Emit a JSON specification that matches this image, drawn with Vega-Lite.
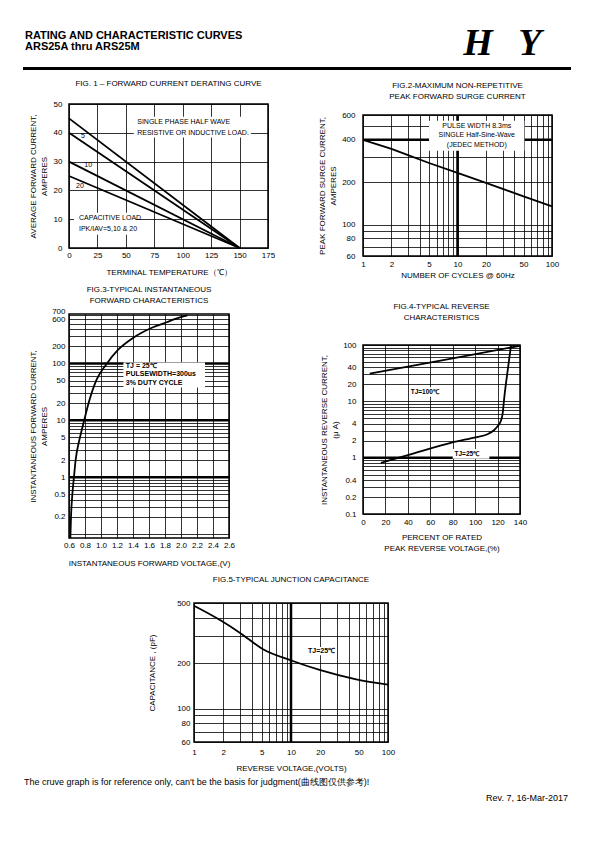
{
  "$schema": "https://vega.github.io/schema/vega-lite/v6.json",
  "background": "white",
  "padding": {"left": 23, "top": 22, "right": 5, "bottom": 5},
  "columns": 1,
  "align": "none",
  "spacing": -12,
  "config": {
    "font": "Liberation Sans",
    "view": {"stroke": "black", "strokeWidth": 1.5, "fill": "white"},
    "axis": {
      "grid": true, "gridColor": "black", "gridOpacity": 1, "gridWidth": 0.8,
      "domain": false, "ticks": false, "tickCount": 100,
      "labelFont": "Liberation Sans", "labelFontSize": 8, "labelColor": "black",
      "titleFont": "Liberation Sans", "titleFontSize": 8, "titleFontWeight": "normal", "titleColor": "black",
      "titleLineHeight": 11,
      "labelFlush": false, "labelOverlap": false
    },
    "title": {"font": "Liberation Sans", "fontSize": 8, "fontWeight": "normal", "color": "black", "anchor": "middle", "lineHeight": 11},
    "text": {"color": "black", "font": "Liberation Sans"}
  },
  "datasets": {
    "header": [
      {"x": -8.76, "y": 34.4, "label": "RATING AND CHARACTERISTIC CURVES", "k": "t"},
      {"x": -8.76, "y": 58.3, "label": "ARS25A thru ARS25M", "k": "t"},
      {"x": 81.5, "y": 68.75, "label": "H", "k": "l"},
      {"x": 91.8, "y": 68.75, "label": "Y", "k": "l"}
    ],
    "headerRule": [{"x": -9.16, "x2": 100, "y": 93.75, "y2": 100}],
    "footer": [
      {"x": -8.96, "y": 54.6, "label": "The cruve graph is for reference only, can't be the basis for judgment(曲线图仅供参考)!", "k": "l"},
      {"x": 99.4, "y": 90.9, "label": "Rev. 7, 16-Mar-2017", "k": "r"}
    ],
    "f1lines": [
      {"s": "R", "x": 0, "y": 45}, {"s": "R", "x": 150, "y": 0},
      {"s": "5", "x": 0, "y": 40}, {"s": "5", "x": 150, "y": 0},
      {"s": "10", "x": 0, "y": 30}, {"s": "10", "x": 150, "y": 0},
      {"s": "20", "x": 0, "y": 25}, {"s": "20", "x": 150, "y": 0}
    ],
    "f1box": [
      {"x": 57, "x2": 160, "y": 38.4, "y2": 45.6},
      {"x": 4.4, "x2": 58.8, "y": 4.6, "y2": 12.2}
    ],
    "f1text": [
      {"x": 60, "y": 43.6, "label": "SINGLE PHASE HALF WAVE"},
      {"x": 60, "y": 39.9, "label": "RESISTIVE OR INDUCTIVE LOAD."},
      {"x": 8.8, "y": 10.5, "label": "CAPACITIVE LOAD"},
      {"x": 8.8, "y": 6.7, "label": "IPK/IAV=5,10 & 20"},
      {"x": 10.5, "y": 39, "label": "5"},
      {"x": 13.5, "y": 28.8, "label": "10"},
      {"x": 6.2, "y": 21.5, "label": "20"}
    ],
    "f2curve": [
      {"x": 1, "y": 400}, {"x": 2, "y": 345}, {"x": 3, "y": 312}, {"x": 5, "y": 274},
      {"x": 10, "y": 233}, {"x": 20, "y": 198}, {"x": 50, "y": 159}, {"x": 100, "y": 135}
    ],
    "f2rh": [{"y": 400}],
    "f2rv": [{"x": 10}],
    "f2box": [{"x": 5.0, "x2": 51, "y": 334, "y2": 547}],
    "f2text": [
      {"x": 16, "y": 500, "label": "PULSE WIDTH 8.3ms"},
      {"x": 16, "y": 435, "label": "SINGLE Half-Sine-Wave"},
      {"x": 16, "y": 370, "label": "(JEDEC METHOD)"}
    ],
    "f3curve": [
      {"x": 0.617, "y": 0.085}, {"x": 0.625, "y": 0.2}, {"x": 0.642, "y": 0.5}, {"x": 0.662, "y": 1},
      {"x": 0.683, "y": 2}, {"x": 0.737, "y": 5}, {"x": 0.79, "y": 10}, {"x": 0.84, "y": 19},
      {"x": 0.945, "y": 52}, {"x": 1.07, "y": 98}, {"x": 1.215, "y": 174}, {"x": 1.4, "y": 280},
      {"x": 1.65, "y": 432}, {"x": 1.82, "y": 530}, {"x": 1.92, "y": 600}, {"x": 2.08, "y": 700}
    ],
    "f3rh": [{"y": 1}, {"y": 10}, {"y": 100}],
    "f3box": [{"x": 1.28, "x2": 2.3, "y": 37.7, "y2": 104}],
    "f3text": [
      {"x": 1.31, "y": 88.6, "label": "TJ = 25℃"},
      {"x": 1.31, "y": 64.6, "label": "PULSEWIDTH=300us"},
      {"x": 1.31, "y": 46, "label": "3% DUTY CYCLE"}
    ],
    "f4curve": [
      {"s": "100", "x": 6, "y": 31}, {"s": "100", "x": 80, "y": 58}, {"s": "100", "x": 140, "y": 97},
      {"s": "25", "x": 16, "y": 0.81}, {"s": "25", "x": 40, "y": 1.11}, {"s": "25", "x": 79, "y": 1.85},
      {"s": "25", "x": 100, "y": 2.3}, {"s": "25", "x": 111, "y": 2.6}, {"s": "25", "x": 117, "y": 3.1},
      {"s": "25", "x": 120, "y": 3.6}, {"s": "25", "x": 122.5, "y": 4.3}, {"s": "25", "x": 124.5, "y": 6},
      {"s": "25", "x": 126, "y": 11.8}, {"s": "25", "x": 129, "y": 35}, {"s": "25", "x": 132, "y": 100}
    ],
    "f4rh": [{"y": 1}],
    "f4box": [
      {"x": 41.5, "x2": 80, "y": 12.1, "y2": 17.8},
      {"x": 80, "x2": 112.7, "y": 0.96, "y2": 1.42}
    ],
    "f4text": [
      {"x": 42.5, "y": 14.7, "label": "TJ=100℃"},
      {"x": 81.6, "y": 1.18, "label": "TJ=25℃"}
    ],
    "f5curve": [
      {"x": 1, "y": 479}, {"x": 1.91, "y": 381}, {"x": 2.96, "y": 318}, {"x": 5.14, "y": 247},
      {"x": 10.1, "y": 208}, {"x": 19.7, "y": 180}, {"x": 47, "y": 156}, {"x": 100, "y": 144}
    ],
    "f5rv": [{"x": 10}],
    "f5box": [{"x": 14.4, "x2": 29.3, "y": 225, "y2": 256}],
    "f5text": [{"x": 15, "y": 240, "label": "TJ=25℃"}],
    "blank": [{"label": ""}]
  },
  "concat": [
    {
      "width": 502, "height": 48,
      "view": {"stroke": null, "fill": null},
      "layer": [
        {
          "data": {"name": "header"},
          "transform": [{"filter": "datum.k == 't'"}],
          "mark": {"type": "text", "align": "left", "baseline": "alphabetic", "fontWeight": "bold", "fontSize": 11},
          "encoding": {
            "x": {"field": "x", "type": "quantitative", "scale": {"domain": [0, 100], "nice": false}, "axis": null},
            "y": {"field": "y", "type": "quantitative", "scale": {"domain": [0, 100], "reverse": true, "nice": false}, "axis": null},
            "text": {"field": "label"}
          }
        },
        {
          "data": {"name": "header"},
          "transform": [{"filter": "datum.k == 'l'"}],
          "mark": {"type": "text", "align": "center", "baseline": "alphabetic", "fontWeight": "bold", "fontStyle": "italic", "font": "Liberation Serif", "fontSize": 38},
          "encoding": {
            "x": {"field": "x", "type": "quantitative"},
            "y": {"field": "y", "type": "quantitative"},
            "text": {"field": "label"}
          }
        },
        {
          "data": {"name": "headerRule"},
          "mark": {"type": "rect", "color": "black"},
          "encoding": {
            "x": {"field": "x", "type": "quantitative"},
            "x2": {"field": "x2"},
            "y": {"field": "y", "type": "quantitative"},
            "y2": {"field": "y2"}
          }
        }
      ]
    },
    {
      "concat": [
        {
          "concat": [
            {
              "width": 10, "height": 6,
              "view": {"stroke": null, "fill": null},
              "data": {"name": "blank"},
              "mark": {"type": "text"},
              "encoding": {"text": {"field": "label"}}
            },
            {
              "width": 199, "height": 144,
              "title": {"text": "FIG. 1 – FORWARD CURRENT DERATING CURVE", "offset": 12},
              "layer": [
                {
                  "data": {"name": "f1box"},
                  "mark": {"type": "rect", "fill": "white"},
                  "encoding": {
                    "x": {"field": "x", "type": "quantitative", "scale": {"domain": [0, 175], "nice": false},
                      "axis": {"values": [0, 25, 50, 75, 100, 125, 150, 175], "format": "d", "title": "TERMINAL TEMPERATURE（℃）", "labelPadding": 3, "titlePadding": 9}},
                    "x2": {"field": "x2"},
                    "y": {"field": "y", "type": "quantitative", "scale": {"domain": [0, 50], "nice": false},
                      "axis": {"values": [0, 10, 20, 30, 40, 50], "format": "d", "title": ["AVERAGE FORWARD CURRENT,", "AMPERES"], "labelPadding": 7, "titlePadding": 5}},
                    "y2": {"field": "y2"}
                  }
                },
                {
                  "data": {"name": "f1lines"},
                  "mark": {"type": "line", "color": "black", "strokeWidth": 1.8},
                  "encoding": {
                    "x": {"field": "x", "type": "quantitative"},
                    "y": {"field": "y", "type": "quantitative"},
                    "detail": {"field": "s"}
                  }
                },
                {
                  "data": {"name": "f1text"},
                  "mark": {"type": "text", "align": "left", "baseline": "middle", "fontSize": 7},
                  "encoding": {
                    "x": {"field": "x", "type": "quantitative"},
                    "y": {"field": "y", "type": "quantitative"},
                    "text": {"field": "label"}
                  }
                }
              ]
            },
            {
              "width": 160, "height": 224,
              "title": {"text": ["FIG.3-TYPICAL INSTANTANEOUS", "FORWARD CHARACTERISTICS"], "offset": 2},
              "layer": [
                {
                  "data": {"name": "f3rh"},
                  "mark": {"type": "rule", "strokeWidth": 2.5, "color": "black"},
                  "encoding": {"y": {"field": "y", "type": "quantitative"}}
                },
                {
                  "data": {"name": "f3box"},
                  "mark": {"type": "rect", "fill": "white"},
                  "encoding": {
                    "x": {"field": "x", "type": "quantitative", "scale": {"domain": [0.6, 2.6], "nice": false},
                      "axis": {"values": [0.6, 0.8, 1.0, 1.2, 1.4, 1.6, 1.8, 2.0, 2.2, 2.4, 2.6], "format": ".1f", "title": "INSTANTANEOUS FORWARD VOLTAGE,(V)", "labelPadding": 3, "titlePadding": 10}},
                    "x2": {"field": "x2"},
                    "y": {"field": "y", "type": "quantitative", "scale": {"type": "log", "domain": [0.085, 740], "nice": false},
                      "axis": {
                        "values": [0.1, 0.2, 0.3, 0.4, 0.5, 0.6, 0.7, 0.8, 0.9, 1, 2, 3, 4, 5, 6, 7, 8, 9, 10, 20, 30, 40, 50, 60, 70, 80, 90, 100, 200, 300, 400, 500, 600, 700],
                        "labelExpr": "indexof([0.2, 0.5, 1, 2, 5, 10, 20, 50, 100, 200, 600, 700], datum.value) >= 0 ? format(datum.value, '~g') : ''",
                        "labelOffset": {"condition": {"test": "datum.value == 700", "value": -4}, "value": 0},
                        "title": ["INSTANTANEOUS FORWARD CURRENT,", "AMPERES"], "labelPadding": 4, "titlePadding": 3}},
                    "y2": {"field": "y2"}
                  }
                },
                {
                  "data": {"name": "f3curve"},
                  "mark": {"type": "line", "color": "black", "strokeWidth": 1.8, "clip": true, "interpolate": "monotone"},
                  "encoding": {
                    "x": {"field": "x", "type": "quantitative"},
                    "y": {"field": "y", "type": "quantitative"}
                  }
                },
                {
                  "data": {"name": "f3text"},
                  "mark": {"type": "text", "align": "left", "baseline": "middle", "fontSize": 7, "fontWeight": "bold"},
                  "encoding": {
                    "x": {"field": "x", "type": "quantitative"},
                    "y": {"field": "y", "type": "quantitative"},
                    "text": {"field": "label"}
                  }
                }
              ]
            }
          ],
          "columns": 1,
          "align": "none",
          "spacing": 8
        },
        {
          "concat": [
            {
              "width": 10, "height": 3,
              "view": {"stroke": null, "fill": null},
              "data": {"name": "blank"},
              "mark": {"type": "text"},
              "encoding": {"text": {"field": "label"}}
            },
            {
              "width": 189, "height": 141,
              "title": {"text": ["FIG.2-MAXIMUM NON-REPETITIVE", "PEAK FORWARD  SURGE CURRENT"], "offset": 10},
              "layer": [
                {
                  "data": {"name": "f2rh"},
                  "mark": {"type": "rule", "strokeWidth": 2.5, "color": "black"},
                  "encoding": {"y": {"field": "y", "type": "quantitative"}}
                },
                {
                  "data": {"name": "f2rv"},
                  "mark": {"type": "rule", "strokeWidth": 2.5, "color": "black"},
                  "encoding": {"x": {"field": "x", "type": "quantitative"}}
                },
                {
                  "data": {"name": "f2box"},
                  "mark": {"type": "rect", "fill": "white"},
                  "encoding": {
                    "x": {"field": "x", "type": "quantitative", "scale": {"type": "log", "domain": [1, 100], "nice": false},
                      "axis": {
                        "values": [1, 2, 3, 4, 5, 6, 7, 8, 9, 10, 20, 30, 40, 50, 60, 70, 80, 90, 100],
                        "labelExpr": "indexof([1, 2, 5, 10, 20, 50, 100], datum.value) >= 0 ? format(datum.value, '~g') : ''",
                        "title": "NUMBER OF CYCLES @ 60Hz", "labelPadding": 4, "titlePadding": 3}},
                    "x2": {"field": "x2"},
                    "y": {"field": "y", "type": "quantitative", "scale": {"type": "log", "domain": [60, 600], "nice": false},
                      "axis": {
                        "values": [60, 70, 80, 90, 100, 200, 300, 400, 500, 600],
                        "labelExpr": "indexof([60, 80, 100, 200, 400, 600], datum.value) >= 0 ? format(datum.value, '~g') : ''",
                        "title": ["PEAK FORWARD SURGE CURRENT,", "AMPERES"], "labelPadding": 8, "titlePadding": 4}},
                    "y2": {"field": "y2"}
                  }
                },
                {
                  "data": {"name": "f2curve"},
                  "mark": {"type": "line", "color": "black", "strokeWidth": 1.8},
                  "encoding": {
                    "x": {"field": "x", "type": "quantitative"},
                    "y": {"field": "y", "type": "quantitative"}
                  }
                },
                {
                  "data": {"name": "f2text"},
                  "mark": {"type": "text", "align": "center", "baseline": "middle", "fontSize": 7},
                  "encoding": {
                    "x": {"field": "x", "type": "quantitative"},
                    "y": {"field": "y", "type": "quantitative"},
                    "text": {"field": "label"}
                  }
                }
              ]
            },
            {
              "width": 157, "height": 169,
              "title": {"text": ["", "FIG.4-TYPICAL REVERSE", "CHARACTERISTICS"], "offset": 19},
              "layer": [
                {
                  "data": {"name": "f4rh"},
                  "mark": {"type": "rule", "strokeWidth": 2.5, "color": "black"},
                  "encoding": {"y": {"field": "y", "type": "quantitative"}}
                },
                {
                  "data": {"name": "f4box"},
                  "mark": {"type": "rect", "fill": "white"},
                  "encoding": {
                    "x": {"field": "x", "type": "quantitative", "scale": {"domain": [0, 140], "nice": false},
                      "axis": {"values": [0, 20, 40, 60, 80, 100, 120, 140], "format": "d", "title": ["PERCENT OF RATED", "PEAK REVERSE VOLTAGE,(%)"], "labelPadding": 4, "titlePadding": 7}},
                    "x2": {"field": "x2"},
                    "y": {"field": "y", "type": "quantitative", "scale": {"type": "log", "domain": [0.1, 100], "nice": false},
                      "axis": {
                        "values": [0.1, 0.2, 0.3, 0.4, 0.5, 0.6, 0.7, 0.8, 0.9, 1, 2, 3, 4, 5, 6, 7, 8, 9, 10, 20, 30, 40, 50, 60, 70, 80, 90, 100],
                        "labelExpr": "indexof([0.1, 0.2, 0.4, 1, 2, 4, 10, 20, 40, 100], datum.value) >= 0 ? format(datum.value, '~g') : ''",
                        "title": ["INSTANTANEOUS REVERSE CURRENT,", "(μ A)"], "labelPadding": 7, "titlePadding": 3}},
                    "y2": {"field": "y2"}
                  }
                },
                {
                  "data": {"name": "f4curve"},
                  "mark": {"type": "line", "color": "black", "strokeWidth": 1.8, "clip": true, "interpolate": "monotone"},
                  "encoding": {
                    "x": {"field": "x", "type": "quantitative"},
                    "y": {"field": "y", "type": "quantitative"},
                    "detail": {"field": "s"}
                  }
                },
                {
                  "data": {"name": "f4text"},
                  "mark": {"type": "text", "align": "left", "baseline": "middle", "fontSize": 6.5, "fontWeight": "bold"},
                  "encoding": {
                    "x": {"field": "x", "type": "quantitative"},
                    "y": {"field": "y", "type": "quantitative"},
                    "text": {"field": "label"}
                  }
                }
              ]
            }
          ],
          "columns": 1,
          "align": "none",
          "spacing": 11
        }
      ],
      "columns": 2,
      "align": "none",
      "spacing": 41
    },
    {
      "concat": [
        {
          "width": 58, "height": 1,
          "view": {"stroke": null, "fill": null},
          "data": {"name": "blank"},
          "mark": {"type": "text"},
          "encoding": {"text": {"field": "label"}}
        },
        {
          "width": 194, "height": 139,
          "title": {"text": ["", "FIG.5-TYPICAL JUNCTION CAPACITANCE"], "offset": 15, "lineHeight": 19},
          "layer": [
            {
              "data": {"name": "f5rv"},
              "mark": {"type": "rule", "strokeWidth": 2.5, "color": "black"},
              "encoding": {"x": {"field": "x", "type": "quantitative"}}
            },
            {
              "data": {"name": "f5box"},
              "mark": {"type": "rect", "fill": "white"},
              "encoding": {
                "x": {"field": "x", "type": "quantitative", "scale": {"type": "log", "domain": [1, 100], "nice": false},
                  "axis": {
                    "values": [1, 2, 3, 4, 5, 6, 7, 8, 9, 10, 20, 30, 40, 50, 60, 70, 80, 90, 100],
                    "labelExpr": "indexof([1, 2, 5, 10, 20, 50, 100], datum.value) >= 0 ? format(datum.value, '~g') : ''",
                    "title": "REVERSE VOLTAGE,(VOLTS)", "labelPadding": 6, "titlePadding": 8}},
                "x2": {"field": "x2"},
                "y": {"field": "y", "type": "quantitative", "scale": {"type": "log", "domain": [60, 500], "nice": false},
                  "axis": {
                    "values": [60, 70, 80, 90, 100, 200, 300, 400, 500],
                    "labelExpr": "indexof([60, 80, 100, 200, 500], datum.value) >= 0 ? format(datum.value, '~g') : ''",
                    "title": "CAPACITANCE , (pF)", "labelPadding": 4, "titlePadding": 20}},
                "y2": {"field": "y2"}
              }
            },
            {
              "data": {"name": "f5curve"},
              "mark": {"type": "line", "color": "black", "strokeWidth": 1.8, "interpolate": "monotone"},
              "encoding": {
                "x": {"field": "x", "type": "quantitative"},
                "y": {"field": "y", "type": "quantitative"}
              }
            },
            {
              "data": {"name": "f5text"},
              "mark": {"type": "text", "align": "left", "baseline": "middle", "fontSize": 7, "fontWeight": "bold"},
              "encoding": {
                "x": {"field": "x", "type": "quantitative"},
                "y": {"field": "y", "type": "quantitative"},
                "text": {"field": "label"}
              }
            }
          ]
        }
      ],
      "columns": 2,
      "align": "none",
      "spacing": 20
    },
    {
      "width": 502, "height": 44,
      "view": {"stroke": null, "fill": null},
      "data": {"name": "footer"},
      "layer": [
        {
          "transform": [{"filter": "datum.k == 'l'"}],
          "mark": {"type": "text", "align": "left", "baseline": "alphabetic", "fontSize": 9},
          "encoding": {
            "x": {"field": "x", "type": "quantitative", "scale": {"domain": [0, 100], "nice": false}, "axis": null},
            "y": {"field": "y", "type": "quantitative", "scale": {"domain": [0, 100], "reverse": true, "nice": false}, "axis": null},
            "text": {"field": "label"}
          }
        },
        {
          "transform": [{"filter": "datum.k == 'r'"}],
          "mark": {"type": "text", "align": "right", "baseline": "alphabetic", "fontSize": 9},
          "encoding": {
            "x": {"field": "x", "type": "quantitative"},
            "y": {"field": "y", "type": "quantitative"},
            "text": {"field": "label"}
          }
        }
      ]
    }
  ]
}
